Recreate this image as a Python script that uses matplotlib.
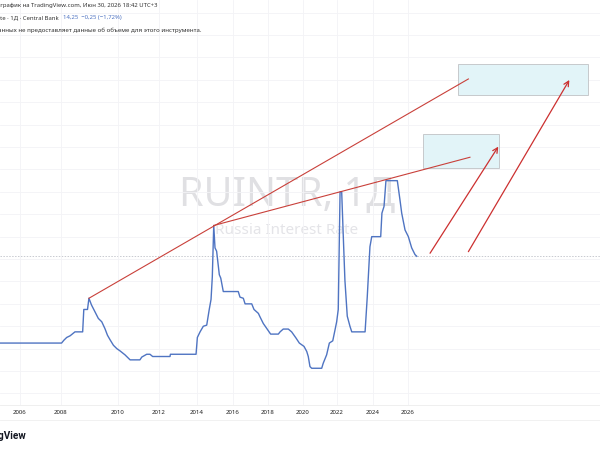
import numpy as np
import matplotlib

matplotlib.use("Agg")

import matplotlib.pyplot as plt
from matplotlib.patches import Rectangle

# Russia interest rate, % (x in decimal years)
years = [2004.5, 2008.02, 2008.1, 2008.2, 2008.32, 2008.49, 2008.76, 2008.8, 2008.93,
         2008.98, 2009.07, 2009.19, 2009.31, 2009.43, 2009.54, 2009.63, 2009.72,
         2009.84, 2009.96, 2010.1, 2010.34, 2010.59, 2011.07, 2011.16, 2011.4,
         2011.56, 2011.69, 2012.58, 2012.6, 2013.95, 2014.02, 2014.17, 2014.35,
         2014.54, 2014.68, 2014.78, 2014.85, 2014.93, 2015.0, 2015.09, 2015.24,
         2015.32, 2015.46, 2016.3, 2016.4, 2016.59, 2016.69, 2017.07, 2017.2,
         2017.45, 2017.54, 2017.73, 2017.93, 2018.15, 2018.59, 2018.69, 2018.87,
         2019.16, 2019.35, 2019.6, 2019.79, 2020.06, 2020.22, 2020.31, 2020.41,
         2020.51, 2021.1, 2021.19, 2021.39, 2021.55, 2021.75, 2021.88, 2021.98,
         2022.07, 2022.17, 2022.26, 2022.35, 2022.44, 2022.57, 2022.72, 2022.82,
         2023.56, 2023.68, 2023.83, 2023.93, 2024.44, 2024.51, 2024.63, 2024.74,
         2025.39, 2025.54, 2025.64, 2025.83, 2026.02, 2026.21, 2026.4, 2026.5]
rates = [6.5, 6.5, 6.75, 7.0, 7.15, 7.5, 7.5, 9.5, 9.5,
         10.5, 9.9, 9.3, 8.7, 8.4, 7.8, 7.2, 6.8,
         6.3, 6.0, 5.8, 5.45, 5.0, 5.0, 5.25, 5.5,
         5.5, 5.3, 5.3, 5.5, 5.5, 7.0, 7.5, 8.0,
         8.1, 9.5, 10.4, 12.4, 17.0, 15.0, 14.7, 12.6,
         12.3, 11.1, 11.1, 10.6, 10.5, 10.0, 10.0, 9.5,
         9.15, 8.85, 8.25, 7.8, 7.3, 7.3, 7.5, 7.75,
         7.75, 7.5, 6.95, 6.5, 6.2, 5.75, 5.3, 4.4,
         4.25, 4.25, 4.7, 5.45, 6.5, 6.7, 7.65, 8.4,
         9.5, 20.0, 20.0, 16.0, 12.1, 8.9, 8.0, 7.5,
         7.5, 10.6, 15.1, 16.0, 16.0, 18.1, 18.7, 21.0,
         21.0, 19.3, 18.1, 16.6, 16.0, 15.0, 14.4, 14.25]

tick_years = [2006, 2008, 2010, 2012, 2014, 2016, 2018, 2020, 2022, 2024, 2026]

# TradingView spaces bars by index, so calendar years are not evenly spaced
scale_years = [2000, 2006, 2008, 2010, 2012, 2014, 2016, 2018, 2020, 2022, 2024, 2026, 2040]
scale_pos = [-103, 20, 61, 118, 159, 197, 233, 268, 303, 337, 373, 408, 653]

# user drawings: trend lines, target boxes and arrows (year, rate)
trend_lines = [((2008.98, 10.5), (2029.45, 30.08)),
               ((2014.93, 17.0), (2029.54, 23.09))]
target_boxes = [(2028.87, 28.65, 2036.3, 31.42),
                (2026.87, 22.11, 2031.22, 25.14)]
arrows = [((2027.26, 14.52), (2031.16, 24.04)),
          ((2029.45, 14.66), (2035.22, 29.99))]


def fwd(x):
    return np.interp(x, scale_years, scale_pos)


def inv(p):
    return np.interp(p, scale_pos, scale_years)


plt.rcParams["font.family"] = ["Noto Sans", "DejaVu Sans"]

fig = plt.figure(figsize=(6, 4.5), dpi=100)
ax = fig.add_axes([0, 0.1, 1, 0.9])
ax.set_xscale("function", functions=(fwd, inv))
ax.set_xlim(inv(0), inv(600))
ax.set_ylim(0.97, 37.13)

ax.set_yticks(np.arange(2, 38, 2))
ax.set_xticks(tick_years)
ax.set_xticklabels([str(y) for y in tick_years])
ax.tick_params(axis="x", length=0, labelsize=4.4, pad=3.5, colors="#222222")
ax.tick_params(axis="y", length=0, labelleft=False)
ax.grid(True, color="#F3F3F6", linewidth=0.6)
for side in ["top", "left", "right"]:
    ax.spines[side].set_visible(False)
ax.spines["bottom"].set_color("#ECECEC")
ax.spines["bottom"].set_linewidth(0.6)

ax.text(0.478, 0.516, "RUINTR, 1Д", transform=ax.transAxes, ha="center", va="center",
        fontsize=28.5, color="#E0E0E3", zorder=0.5)
ax.text(0.478, 0.43, "Russia Interest Rate", transform=ax.transAxes, ha="center",
        va="center", fontsize=11, color="#E4E4E8", zorder=0.5)

ax.axhline(rates[-1], color="#C8CAD0", linewidth=0.7, linestyle=(0, (1.5, 1.5)), zorder=1)
ax.plot(years, rates, color="#4F74C2", linewidth=1.0, zorder=3)

for (x0, y0), (x1, y1) in trend_lines:
    ax.plot([x0, x1], [y0, y1], color="#C9403A", linewidth=0.8, zorder=4)

for x0, y0, x1, y1 in target_boxes:
    ax.add_patch(Rectangle((x0, y0), x1 - x0, y1 - y0, facecolor="#E2F4F8",
                           edgecolor="#C6C9CC", linewidth=0.7, zorder=2))

for start, end in arrows:
    ax.annotate("", xy=end, xytext=start,
                arrowprops=dict(arrowstyle="->", color="#CC3030", linewidth=0.9,
                                mutation_scale=9, shrinkA=0, shrinkB=0), zorder=4)

# header lines, cut off at the left edge like the screenshot
fig.text(157 / 600, 1 - 5 / 450, "опубликовал(а) график на TradingView.com, Июн 30, 2026 18:42 UTC+3",
         ha="right", va="center", fontsize=4.3, color="#333333")
fig.text(59 / 600, 1 - 18 / 450, "Russia Interest Rate · 1Д · Central Bank",
         ha="right", va="center", fontsize=4.3, color="#333333")
fig.text(63 / 600, 1 - 18 / 450, "14,25  −0,25 (−1,72%)",
         ha="left", va="center", fontsize=4.3, color="#4F74C2")
fig.text(201 / 600, 1 - 30 / 450,
         "Источник данных не предоставляет данные об объеме для этого инструмента.",
         ha="right", va="center", fontsize=4.45, color="#333333")

fig.add_artist(plt.Line2D([0, 1], [1 - 420 / 450] * 2, color="#EFEFEF", linewidth=0.6))
fig.text(27 / 600, 1 - 436 / 450, "TradingView", ha="right", va="center",
         fontsize=7.2, fontweight="bold", family=["Roboto", "DejaVu Sans"], color="#131722")

fig.savefig("out.png", dpi=100)
